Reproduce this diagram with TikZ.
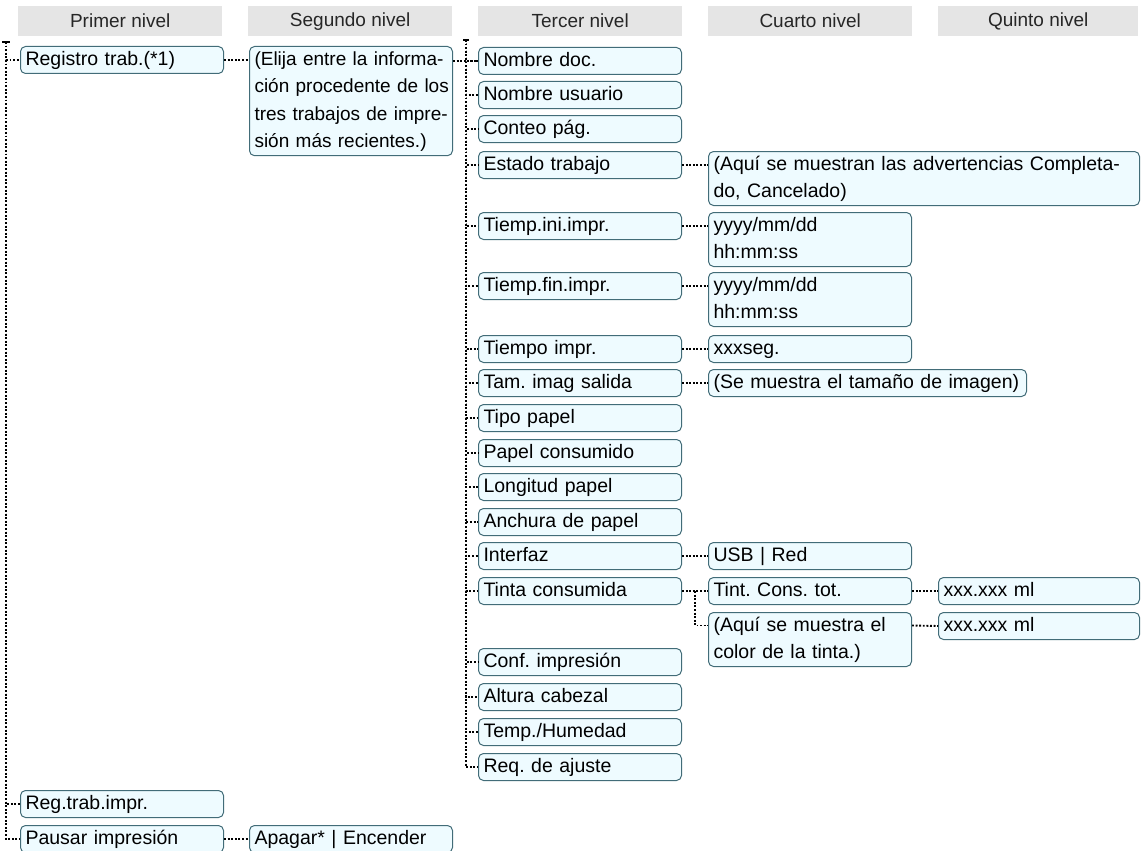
\documentclass[tikz,border=0pt]{standalone}
\usepackage{fontspec}
\setmainfont{Liberation Sans}
\usetikzlibrary{positioning, calc}
\definecolor{boxline}{RGB}{66,108,120}
\definecolor{boxfill}{RGB}{238,251,255}
\newcommand{\boxfont}{\fontsize{19.5}{27}\selectfont}
\newcommand{\headfont}{\fontsize{19}{23}\selectfont}
\frenchspacing
\hfuzz=20pt

\tikzset{
  box/.style={draw=boxline, fill=boxfill, line width=1pt, rounded corners=5pt,
    anchor=north west, align=left, text width=#1, inner xsep=5pt, inner ysep=0pt,
    font=\boxfont, execute at begin node=\strut, execute at end node=\strut},
  box/.default=193pt,
  head/.style={fill=gray!20, anchor=north west, minimum width=#1, minimum height=30pt,
    inner sep=0pt, font=\headfont, text=black!85},
  head/.default=204pt,
  link/.style={draw=black, line width=1.9pt, dash pattern=on 1.9pt off 1.7pt},
  tick/.style={draw=black, line width=1.2pt}
}

\begin{document}
\begin{tikzpicture}[x=1pt, y=-1pt]
    \useasboundingbox (0,0) rectangle (1146,851);

    % column heads
    \node[head] (h1) at (18,6)  {Primer nivel};
    \node[head] (h2) at (248,6) {Segundo nivel};
    \node[head] (h3) at (478,6) {Tercer nivel};
    \node[head] (h4) at (708,6) {Cuarto nivel};
    \node[head=200pt] (h5) at (938,6) {Quinto nivel};

    % first level
    \node[box] (registro) at (20,46)  {Registro trab.(*1)};
    \node[box] (regimpr)  at (20,790) {Reg.trab.impr.};
    \node[box] (pausar)   at (20,825) {Pausar impresión};

    % second level
    \node[box, font=\fontsize{19}{27.3}\selectfont] (elija) at (249,46)
        {\mbox{(Elija entre la informa-}\\\mbox{ción procedente de los}\\\mbox{tres trabajos de impre-}\\\mbox{sión más recientes.)}};
    \node[box] (apagar) at (249,825) {Apagar* | Encender};

    % third level
    \node[box] (nombre)   at (478,47)  {Nombre doc.};
    \node[box] (usuario)  at (478,81)  {Nombre usuario};
    \node[box] (conteo)   at (478,115) {Conteo pág.};
    \node[box] (estado)   at (478,151) {Estado trabajo};
    \node[box] (tini)     at (478,212) {Tiemp.ini.impr.};
    \node[box] (tfin)     at (478,272) {Tiemp.fin.impr.};
    \node[box] (timpr)    at (478,335) {Tiempo impr.};
    \node[box] (tam)      at (478,369) {Tam. imag salida};
    \node[box] (tipo)     at (478,404) {Tipo papel};
    \node[box] (papelc)   at (478,439) {Papel consumido};
    \node[box] (longitud) at (478,473) {Longitud papel};
    \node[box] (anchura)  at (478,508) {Anchura de papel};
    \node[box] (interfaz) at (478,542) {Interfaz};
    \node[box] (tinta)    at (478,577) {Tinta consumida};
    \node[box] (conf)     at (478,648) {Conf. impresión};
    \node[box] (altura)   at (478,683) {Altura cabezal};
    \node[box] (temp)     at (478,718) {Temp./Humedad};
    \node[box] (req)      at (478,753) {Req. de ajuste};

    % fourth level
    \node[box=421pt] (aviso)  at (708,151) {(Aquí se muestran las advertencias Completa-\\do, Cancelado)};
    \node[box] (fechaini)     at (708,212) {yyyy/mm/dd\\hh:mm:ss};
    \node[box] (fechafin)     at (708,272) {yyyy/mm/dd\\hh:mm:ss};
    \node[box] (seg)          at (708,335) {xxxseg.};
    \node[box=308pt] (tamimg) at (708,369) {(Se muestra el tamaño de imagen)};
    \node[box] (usb)          at (708,542) {USB | Red};
    \node[box] (total)        at (708,577) {Tint. Cons. tot.};
    \node[box] (color)        at (708,612) {(Aquí se muestra el\\color de la tinta.)};

    % fifth level
    \node[box=191pt] (ml1) at (938,577) {xxx.xxx ml};
    \node[box=191pt] (ml2) at (938,612) {xxx.xxx ml};

    % trunk of first level
    \coordinate (t1) at (6,42);
    \draw[tick] ($(t1)+(-4,0)$) -- ($(t1)+(4,0)$);
    \foreach \n in {registro, regimpr, pausar}
        \draw[link] (t1) |- (\n.west);

    \draw[link] (registro.east) -- (registro.east -| elija.west);
    \draw[link] (pausar.east) -- (apagar.west);

    % trunk of third level
    \coordinate (t3) at (466,40);
    \draw[tick] ($(t3)+(-3,0)$) -- ($(t3)+(3,0)$);
    \draw[link] (elija.east |- nombre.west) -- (nombre.west);
    \foreach \n in {nombre, usuario, conteo, estado, tini, tfin, timpr, tam, tipo,
                    papelc, longitud, anchura, interfaz, tinta, conf, altura, temp, req}
        \draw[link] (t3) |- (\n.west);

    % fourth level links
    \draw[link] (estado.east) -- (estado.east -| aviso.west);
    \draw[link] (tini.east) -- (tini.east -| fechaini.west);
    \draw[link] (tfin.east) -- (tfin.east -| fechafin.west);
    \draw[link] (timpr.east) -- (seg.west);
    \draw[link] (tam.east) -- (tamimg.west);
    \draw[link] (interfaz.east) -- (usb.west);
    \draw[link] (tinta.east) -- (total.west);
    \coordinate (t4) at ($(tinta.east)!0.5!(total.west)$);
    \draw[link] (t4) |- ($(color.north west)+(0,13.5)$);

    % fifth level links
    \draw[link] (total.east) -- (ml1.west);
    \draw[link] ($(color.north east)+(0,13.5)$) -- (ml2.west);
\end{tikzpicture}
\end{document}
